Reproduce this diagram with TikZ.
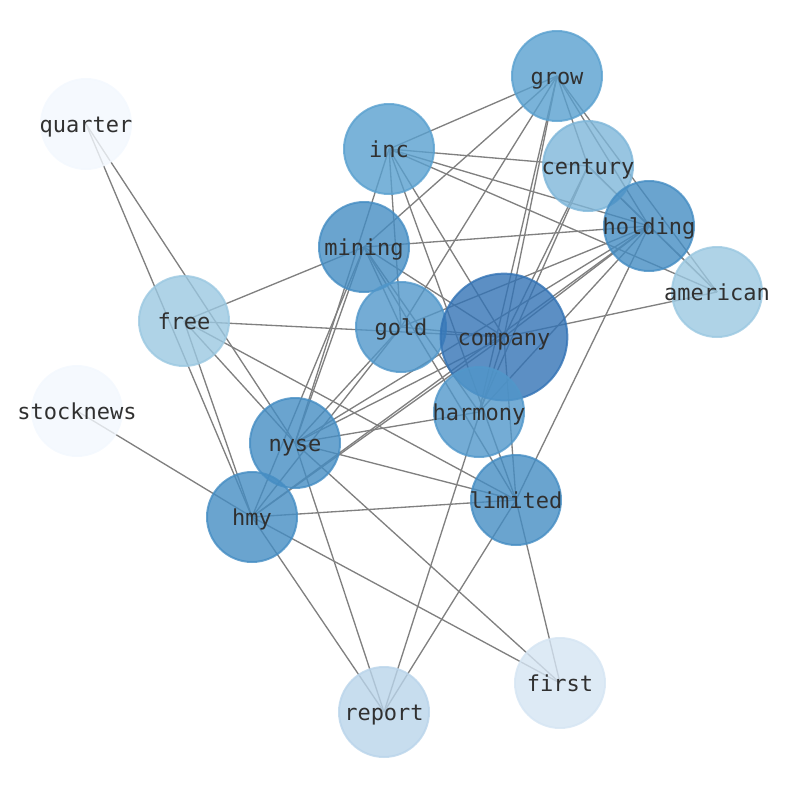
\documentclass[tikz,border=0pt]{standalone}
\usepackage{fontspec}
\setmonofont{DejaVu Sans Mono}
\definecolor{cQuarter}{RGB}{243,248,254}
\definecolor{cFirst}{RGB}{213,229,243}
\definecolor{cReport}{RGB}{185,212,234}
\definecolor{cFree}{RGB}{155,200,225}
\definecolor{cCentury}{RGB}{126,182,217}
\definecolor{cGrow}{RGB}{89,160,207}
\definecolor{cMid}{RGB}{69,141,195}
\definecolor{cGold}{RGB}{81,151,202}
\definecolor{cCompany}{RGB}{51,115,181}
\definecolor{cEdge}{RGB}{128,128,128}
\definecolor{cText}{RGB}{48,48,48}
\tikzset{
  edge/.style={draw=cEdge, line width=1pt},
  bub/.style={circle, inner sep=0pt, fill opacity=0.8, draw opacity=0.8, line width=1.5pt},
  lbl/.style={font=\ttfamily\fontsize{16.5}{19}\selectfont, text=cText, inner sep=0pt, text height=12pt, text depth=4pt, yshift=-2pt},
}
\newcommand\wn[3]{\node[bub, minimum size=#2, fill=#3, draw=#3] (#1-c) at (#1) {};\node[lbl] (#1-t) at (#1) {#1};}
\begin{document}
\begin{tikzpicture}[x=0.75pt,y=-0.75pt]
\useasboundingbox (0,0) rectangle (794,790);
\coordinate (grow) at (557,76);
\coordinate (quarter) at (86,124);
\coordinate (inc) at (389,149);
\coordinate (century) at (588,166);
\coordinate (holding) at (649,226);
\coordinate (mining) at (364,247);
\coordinate (american) at (717,292);
\coordinate (free) at (184,321);
\coordinate (gold) at (401,327);
\coordinate (company) at (504,337);
\coordinate (harmony) at (479,412);
\coordinate (stocknews) at (77,411);
\coordinate (nyse) at (295,443);
\coordinate (limited) at (516,500);
\coordinate (hmy) at (252,517);
\coordinate (first) at (560,683);
\coordinate (report) at (384,712);
% edges
\foreach \a/\b in {quarter/nyse, quarter/hmy, stocknews/hmy,
  free/mining, free/company, free/nyse, free/limited, free/hmy,
  grow/inc, grow/mining, grow/gold, grow/company, grow/harmony, grow/century, grow/holding, grow/american,
  inc/century, inc/holding, inc/american, inc/nyse, inc/gold, inc/company, inc/limited,
  century/holding, century/american, century/company, century/harmony,
  holding/mining, holding/gold, holding/company, holding/nyse, holding/hmy, holding/harmony, holding/limited, holding/american,
  company/american,
  mining/gold, mining/company, mining/harmony, mining/limited, mining/nyse, mining/hmy,
  gold/nyse, gold/hmy, gold/company,
  nyse/company, nyse/harmony, nyse/limited, nyse/first, nyse/report,
  hmy/limited, hmy/first, hmy/report, hmy/company,
  limited/report, limited/first, limited/company, report/company}
  \draw[edge] (\a) -- (\b);
% nodes
\wn{quarter}{67.5pt}{cQuarter}
\wn{stocknews}{67.5pt}{cQuarter}
\wn{first}{67.5pt}{cFirst}
\wn{report}{67.5pt}{cReport}
\wn{free}{67.5pt}{cFree}
\wn{american}{67.5pt}{cFree}
\wn{century}{67.5pt}{cCentury}
\wn{holding}{67.5pt}{cMid}
\wn{grow}{67.5pt}{cGrow}
\wn{inc}{67.5pt}{cGrow}
\wn{mining}{67.5pt}{cMid}
\wn{gold}{67.5pt}{cGold}
\wn{company}{95pt}{cCompany}
\wn{harmony}{67.5pt}{cGold}
\wn{limited}{67.5pt}{cMid}
\wn{hmy}{67.5pt}{cMid}
\wn{nyse}{67.5pt}{cMid}
\end{tikzpicture}
\end{document}
